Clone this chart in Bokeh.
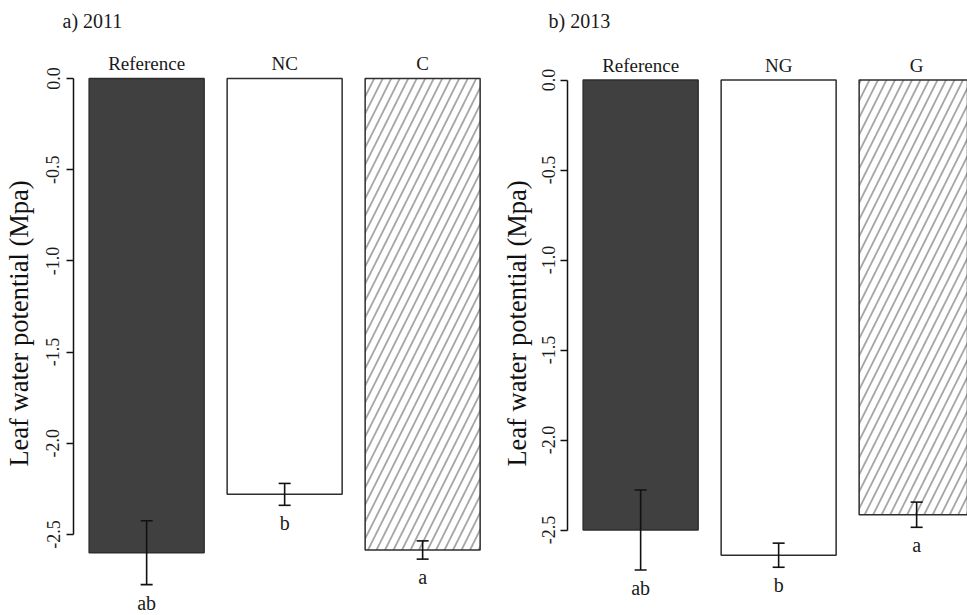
from bokeh.plotting import figure
from bokeh.models import (ColumnDataSource, Range1d, FixedTicker, PrintfTickFormatter,
                          Whisker, TeeHead, Title)
from bokeh.layouts import row
from bokeh.core.properties import value
from bokeh.embed import file_html
from bokeh.resources import INLINE

# ---------------- data ----------------
groups_2011 = ["Reference", "NC", "C"]
means_2011 = [-2.60, -2.28, -2.585]
se_2011 = [0.175, 0.06, 0.05]
letters_2011 = ["ab", "b", "a"]

groups_2013 = ["Reference", "NG", "G"]
means_2013 = [-2.50, -2.64, -2.415]
se_2013 = [0.222, 0.067, 0.07]
letters_2013 = ["ab", "b", "a"]

y_ticks = [0.0, -0.5, -1.0, -1.5, -2.0, -2.5]
y_label = "Leaf water potential (Mpa)"

# ---------------- styles ----------------
FONT = "Liberation Serif"
bar_fill = ["#404040", "#ffffff", "#ffffff"]
bar_hatch = [" ", " ", "/"]
BAR_W = 1.0
SPACE = 0.2
H = 615
TOP = 31


def make_panel(title, groups, means, se, letters, width, border_left, frame_w,
               zero_px, ppu, tick_standoff, label_standoff, title_off):
    n = len(groups)
    centers = [SPACE + BAR_W / 2 + i * (BAR_W + SPACE) for i in range(n)]
    span = n * BAR_W + n * SPACE - SPACE
    x0 = SPACE - 0.04 * span
    x1 = x0 + frame_w / 115.0
    y_top = (zero_px - TOP) / ppu
    y_bot = -(H - zero_px) / ppu
    p = figure(width=width, height=H, x_range=Range1d(x0, x1),
               y_range=Range1d(y_bot, y_top), output_backend="svg",
               toolbar_location=None, x_axis_location=None,
               min_border_left=border_left, min_border_right=0,
               min_border_top=TOP, min_border_bottom=0)
    p.outline_line_color = None
    p.xgrid.visible = False
    p.ygrid.visible = False
    p.background_fill_color = "white"

    p.title = Title(text=title, align="left", offset=-title_off,
                    text_font=FONT, text_font_size="20px", text_font_style="normal",
                    text_color="#1a1a1a", standoff=0)

    src = ColumnDataSource(dict(
        x=centers, top=[0.0] * n, bottom=means, fill=bar_fill, hatch=bar_hatch,
        upper=[m + s for m, s in zip(means, se)],
        lower=[m - s for m, s in zip(means, se)],
        letter=letters, group=groups))

    p.vbar(x="x", width=BAR_W, top="top", bottom="bottom", source=src,
           fill_color="fill", line_color="#2e2e2e", line_width=1.5,
           hatch_pattern="hatch", hatch_color="#a6a6a6", hatch_scale=17,
           hatch_weight=1.8)

    w = Whisker(source=src, base="x", upper="upper", lower="lower",
                dimension="height", line_color="#111111", line_width=1.6,
                level="overlay",
                upper_head=TeeHead(size=12, line_width=1.6, line_color="#111111"),
                lower_head=TeeHead(size=12, line_width=1.6, line_color="#111111"))
    p.add_layout(w)

    # treatment names above the bars
    p.text(x="x", y="top", text="group", source=src, text_align="center",
           text_baseline="middle", y_offset=-15,
           text_font=value(FONT), text_font_size="19px", text_color="#1a1a1a")
    # significance letters below error bars
    p.text(x="x", y="lower", text="letter", source=src, text_align="center",
           text_baseline="middle", y_offset=18,
           text_font=value(FONT), text_font_size="20px", text_color="#1a1a1a")

    ax = p.yaxis[0]
    ax.ticker = FixedTicker(ticks=y_ticks)
    ax.formatter = PrintfTickFormatter(format="%.1f")
    ax.bounds = (min(y_ticks), max(y_ticks))
    ax.major_label_orientation = "vertical"
    ax.major_label_text_font = FONT
    ax.major_label_text_font_size = "18px"
    ax.major_label_text_color = "#1a1a1a"
    ax.major_label_standoff = tick_standoff
    ax.major_tick_out = 7
    ax.major_tick_in = 0
    ax.minor_tick_out = 0
    ax.minor_tick_in = 0
    ax.major_tick_line_width = 1.5
    ax.axis_line_width = 1.5
    ax.axis_line_color = "#111111"
    ax.major_tick_line_color = "#111111"
    ax.axis_label = y_label
    ax.axis_label_text_font = FONT
    ax.axis_label_text_font_size = "26.5px"
    ax.axis_label_text_font_style = "normal"
    ax.axis_label_text_color = "#111111"
    ax.axis_label_standoff = label_standoff
    return p


pa = make_panel("a) 2011", groups_2011, means_2011, se_2011, letters_2011,
                width=496, border_left=73, frame_w=423, zero_px=78, ppu=182.4,
                tick_standoff=7, label_standoff=10, title_off=11)
pb = make_panel("b) 2013", groups_2013, means_2013, se_2013, letters_2013,
                width=471, border_left=71, frame_w=400, zero_px=79.5, ppu=180.0,
                tick_standoff=6, label_standoff=7, title_off=19)

layout = row(pa, pb)
open("out.html", "w").write(file_html(layout, INLINE))
